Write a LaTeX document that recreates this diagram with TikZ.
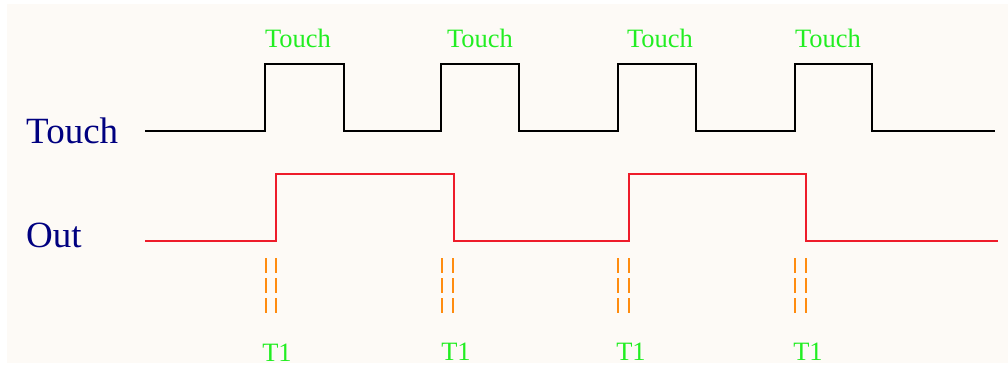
\documentclass[tikz,border=0pt]{standalone}
\usepackage{fontspec}
\setmainfont{Liberation Serif}
\definecolor{bgcream}{HTML}{FDFAF6}
\definecolor{navytext}{HTML}{000080}
\definecolor{greentext}{HTML}{22EE22}
\definecolor{outred}{HTML}{EE1C2A}
\definecolor{dashorange}{HTML}{FF8C10}
\tikzset{
  sigtouch/.style={draw=black, line width=2.4pt, line join=miter},
  sigout/.style={draw=outred, line width=2.4pt, line join=miter},
  tmark/.style={draw=dashorange, line width=2.6pt, dash pattern=on 15pt off 5pt},
  biglabel/.style={text=navytext, font=\fontsize{37}{40}\selectfont, inner sep=0pt, anchor=base west},
  smalllabel/.style={text=greentext, font=\fontsize{26.5}{30}\selectfont, inner sep=0pt, anchor=base},
}
\begin{document}
\begin{tikzpicture}[x=1pt, y=-1pt]
\useasboundingbox (0,0) rectangle (1008,367);
\fill[white] (0,0) rectangle (1008,367);
\fill[bgcream] (7,4) rectangle (1008,363);

% left labels
\node[biglabel] (ltouch) at (26,143) {Touch};
\node[biglabel] (lout) at (26,247) {Out};

% touch waveform
\coordinate (ts) at (145,131);
\coordinate (te) at (995,131);
\draw[sigtouch] (ts) -- (265,131) -- (265,64) -- (344,64) -- (344,131)
  -- (441,131) -- (441,64) -- (519,64) -- (519,131)
  -- (618,131) -- (618,64) -- (696,64) -- (696,131)
  -- (795,131) -- (795,64) -- (872,64) -- (872,131) -- (te);

% out waveform
\coordinate (os) at (145,241);
\coordinate (oe) at (998,241);
\draw[sigout] (os) -- (276,241) -- (276,174) -- (454,174) -- (454,241)
  -- (629,241) -- (629,174) -- (806,174) -- (806,241) -- (oe);

% touch labels
\node[smalllabel] (tl1) at (298,47) {Touch};
\node[smalllabel] (tl2) at (480,47) {Touch};
\node[smalllabel] (tl3) at (660,47) {Touch};
\node[smalllabel] (tl4) at (828,47) {Touch};

% dashed marks
\foreach \xa/\xb [count=\i] in {266/276, 442/453, 618/629, 795/806} {
  \coordinate (da\i t) at (\xa,258);
  \coordinate (da\i b) at (\xa,313);
  \coordinate (db\i t) at (\xb,258);
  \coordinate (db\i b) at (\xb,313);
  \draw[tmark] (da\i t) -- (da\i b);
  \draw[tmark] (db\i t) -- (db\i b);
}

% T1 labels
\node[smalllabel] (t11) at (277,361) {T1};
\node[smalllabel] (t12) at (456,360) {T1};
\node[smalllabel] (t13) at (631,360) {T1};
\node[smalllabel] (t14) at (808,360) {T1};
\end{tikzpicture}
\end{document}
